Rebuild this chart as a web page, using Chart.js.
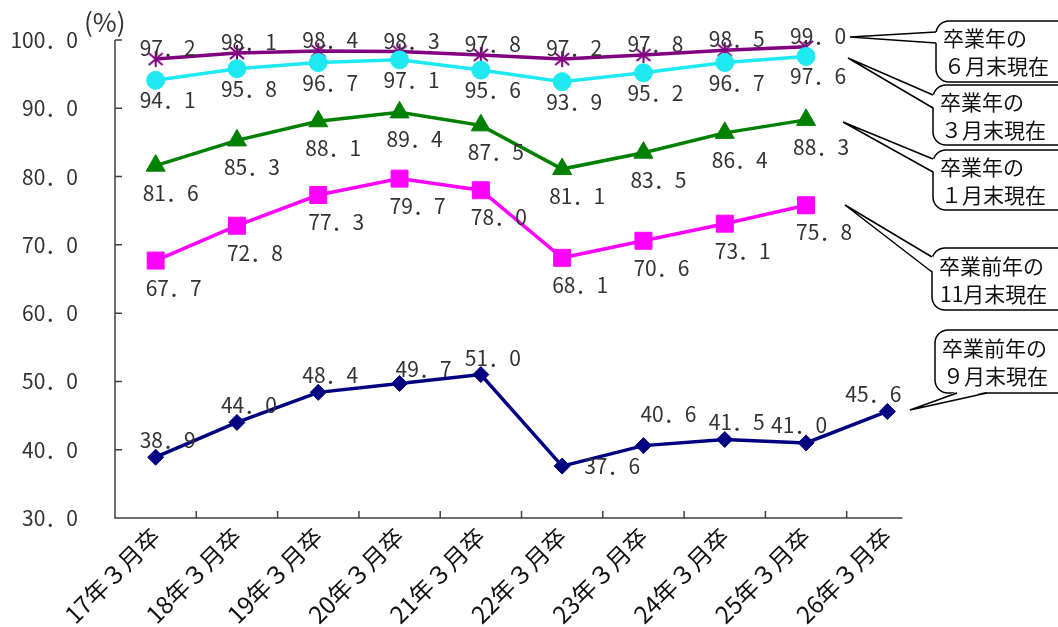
<!DOCTYPE html>
<html>
<head>
<meta charset="utf-8">
<script src="https://cdn.jsdelivr.net/npm/chart.js@4/dist/chart.umd.min.js"></script>
<style>
  html, body { margin: 0; padding: 0; background: #fff; }
  #wrap { width: 1058px; height: 627px; }
</style>
</head>
<body>
<div id="wrap"><canvas id="lineChart"></canvas></div>
<script>
const categories = ['17年３月卒', '18年３月卒', '19年３月卒', '20年３月卒', '21年３月卒',
  '22年３月卒', '23年３月卒', '24年３月卒', '25年３月卒', '26年３月卒'];
const sepRate = [38.9, 44.0, 48.4, 49.7, 51.0, 37.6, 40.6, 41.5, 41.0, 45.6];
const novRate = [67.7, 72.8, 77.3, 79.7, 78.0, 68.1, 70.6, 73.1, 75.8, null];
const janRate = [81.6, 85.3, 88.1, 89.4, 87.5, 81.1, 83.5, 86.4, 88.3, null];
const marRate = [94.1, 95.8, 96.7, 97.1, 95.6, 93.9, 95.2, 96.7, 97.6, null];
const junRate = [97.2, 98.1, 98.4, 98.3, 97.8, 97.2, 97.8, 98.5, 99.0, null];
const yMin = 30, yMax = 100, yStep = 10;

const FONT = '"Noto Sans CJK JP", "Noto Sans", sans-serif';
const TEXT = '#333';
const AXIS = '#404040';
const fmt = (v) => v.toFixed(1).replace('.', '．');

// asterisk marker like the spreadsheet one
const starMarker = (color) => {
  const c = document.createElement('canvas');
  c.width = 18; c.height = 18;
  const g = c.getContext('2d');
  g.strokeStyle = color; g.lineWidth = 2;
  g.beginPath();
  g.moveTo(2, 3); g.lineTo(16, 15);
  g.moveTo(16, 3); g.lineTo(2, 15);
  g.moveTo(9, 1); g.lineTo(9, 17);
  g.stroke();
  return c;
};

// label offsets per series (dx, dy), plus a few hand nudges
const labelShift = [[12, -17], [18, 27], [15, 27], [12, 20], [12, -11]];
const labelNudge = { '0-3': [24, -14], '0-5': [50, 0], '0-6': [25, -32], '0-8': [-7, -18], '0-9': [-14, -17] };

const valueLabels = {
  id: 'valueLabels',
  afterDatasetsDraw(chart) {
    const ctx = chart.ctx;
    ctx.save();
    ctx.font = `21px ${FONT}`;
    ctx.fillStyle = TEXT;
    ctx.textAlign = 'center';
    ctx.textBaseline = 'middle';
    chart.data.datasets.forEach((ds, di) => {
      const meta = chart.getDatasetMeta(di);
      ds.data.forEach((v, i) => {
        if (v == null) return;
        const p = meta.data[i];
        const [dx, dy] = labelNudge[`${di}-${i}`] || labelShift[di];
        ctx.fillText(fmt(v), p.x + dx, p.y + dy);
      });
    });
    ctx.restore();
  }
};

const axesLines = {
  id: 'axesLines',
  beforeDatasetsDraw(chart) {
    const { ctx, chartArea: a, scales: { x, y } } = chart;
    const half = (x.getPixelForValue(1) - x.getPixelForValue(0)) / 2;
    ctx.save();
    ctx.strokeStyle = AXIS;
    ctx.lineWidth = 1.5;
    ctx.beginPath();
    ctx.moveTo(a.left, a.top);
    ctx.lineTo(a.left, a.bottom);
    ctx.lineTo(x.getPixelForValue(categories.length - 1) + 15, a.bottom);
    y.ticks.forEach((t) => {
      const py = y.getPixelForValue(t.value);
      ctx.moveTo(a.left, py);
      ctx.lineTo(a.left + 7, py);
    });
    for (let i = 0; i < categories.length - 1; i++) {
      const px = x.getPixelForValue(i) + half;
      ctx.moveTo(px, a.bottom);
      ctx.lineTo(px, a.bottom - 7);
    }
    ctx.stroke();
    ctx.font = `26px ${FONT}`;
    ctx.fillStyle = TEXT;
    ctx.textAlign = 'left';
    ctx.textBaseline = 'middle';
    ctx.fillText('(%)', 84, 22);
    ctx.restore();
  }
};

const callouts = [
  { box: [936, 21, 140, 61], tip: [850, 37], base: [[936, 32], [936, 43]], lines: ['卒業年の', '６月末現在'] },
  { box: [933, 85, 140, 60], tip: [848, 58], base: [[933, 95], [933, 108]], lines: ['卒業年の', '３月末現在'] },
  { box: [933, 150, 140, 60], tip: [843, 122], base: [[933, 159], [933, 172]], lines: ['卒業年の', '１月末現在'] },
  { box: [932, 248, 140, 62], tip: [845, 205], base: [[932, 257], [932, 272]], lines: ['卒業前年の', '11月末現在'] },
  { box: [935, 330, 140, 63], tip: [910, 410], base: [[957, 393], [987, 393]], lines: ['卒業前年の', '９月末現在'] }
];

const calloutPlugin = {
  id: 'calloutPlugin',
  afterDraw(chart) {
    const ctx = chart.ctx;
    ctx.save();
    ctx.lineWidth = 1.5;
    ctx.strokeStyle = '#000';
    callouts.forEach((c) => {
      const [bx, by, bw, bh] = c.box;
      ctx.beginPath();
      ctx.roundRect(bx, by, bw, bh, 13);
      ctx.fillStyle = '#fff';
      ctx.fill();
      ctx.stroke();
      // pointer wedge
      const [b1, b2] = c.base;
      const horiz = b1[1] === b2[1];
      ctx.beginPath();
      ctx.moveTo(b1[0] + (horiz ? 0 : 1.5), b1[1] - (horiz ? 1.5 : 0));
      ctx.lineTo(c.tip[0], c.tip[1]);
      ctx.lineTo(b2[0] + (horiz ? 0 : 1.5), b2[1] - (horiz ? 1.5 : 0));
      ctx.closePath();
      ctx.fill();
      ctx.beginPath();
      ctx.moveTo(b1[0], b1[1]);
      ctx.lineTo(c.tip[0], c.tip[1]);
      ctx.lineTo(b2[0], b2[1]);
      ctx.stroke();
      ctx.fillStyle = '#111';
      ctx.font = `21px ${FONT}`;
      ctx.textAlign = 'left';
      ctx.textBaseline = 'middle';
      ctx.fillText(c.lines[0], bx + 7, by + bh / 2 - 13);
      ctx.fillText(c.lines[1], bx + 8, by + bh / 2 + 15);
    });
    ctx.restore();
  }
};

const series = [
  { label: '卒業前年の9月末現在', data: sepRate, color: '#000080', style: 'rectRot', radius: 8 },
  { label: '卒業前年の11月末現在', data: novRate, color: '#ff00ff', style: 'rect', radius: 12 },
  { label: '卒業年の1月末現在', data: janRate, color: '#008000', style: 'triangle', radius: 11 },
  { label: '卒業年の3月末現在', data: marRate, color: '#1ee8f0', style: 'circle', radius: 9 },
  { label: '卒業年の6月末現在', data: junRate, color: '#800080', style: starMarker('#800080'), radius: 9 }
];

new Chart(document.getElementById('lineChart'), {
  type: 'line',
  data: {
    labels: categories,
    datasets: series.map((s) => ({
      label: s.label,
      data: s.data,
      borderColor: s.color,
      backgroundColor: s.color,
      borderWidth: 3.5,
      pointStyle: s.style,
      pointRadius: s.radius,
      pointBorderWidth: 1,
      pointBackgroundColor: s.color,
      pointBorderColor: s.color,
      tension: 0,
      spanGaps: false
    }))
  },
  options: {
    responsive: true,
    maintainAspectRatio: false,
    animation: false,
    layout: { padding: { top: 40, right: 130, bottom: 0, left: 0 } },
    plugins: { legend: { display: false }, tooltip: { enabled: false } },
    scales: {
      x: {
        offset: true,
        grid: { display: false, drawTicks: false },
        border: { display: false },
        afterFit: (s) => { s.height = 109; },
        ticks: {
          autoSkip: false, minRotation: 45, maxRotation: 45, padding: 4,
          color: '#111', font: { family: FONT, size: 24 }
        }
      },
      y: {
        min: yMin, max: yMax,
        grid: { display: false, drawTicks: false },
        border: { display: false },
        afterFit: (s) => { s.width = 115; s.paddingTop = 0; s.paddingBottom = 0; },
        ticks: {
          stepSize: yStep, padding: 37, color: TEXT,
          font: { family: FONT, size: 21 },
          callback: (v) => fmt(v)
        }
      }
    }
  },
  plugins: [axesLines, valueLabels, calloutPlugin]
});
</script>
</body>
</html>
